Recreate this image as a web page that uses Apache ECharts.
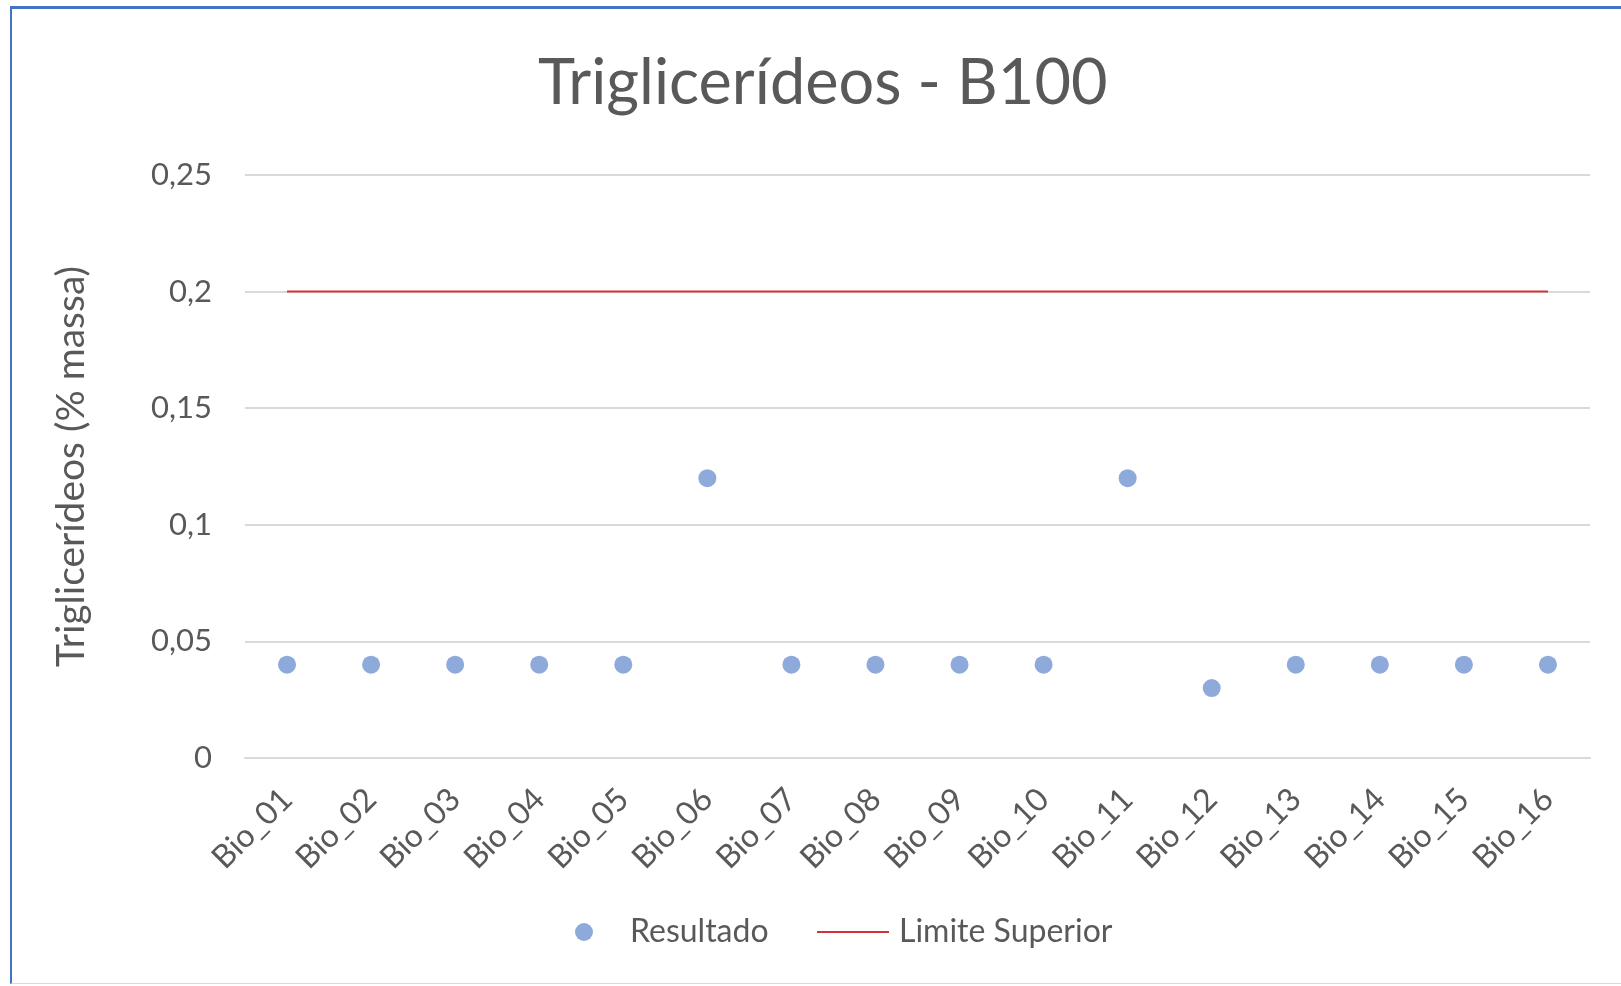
<!doctype html>
<html lang="pt">

<head>
    <meta charset="UTF-8">
    <title>Triglicerídeos - B100</title>
    <style>
        html, body { margin: 0; padding: 0; background: #fff; }
        #frame {
            position: absolute; left: 10px; top: 6px; width: 1611px; height: 978px;
            border-left: 2px solid #4472c4; border-top: 3px solid #4472c4;
            border-bottom: 1px solid #d9d9d9; box-sizing: border-box;
        }
    </style>
</head>

<body>
    <div id="frame"></div>
    <!-- área do gráfico -->
    <div id="main" style="position:absolute;left:0;top:0;width: 1621px;height:986px;"></div>
    <script src="https://cdn.jsdelivr.net/npm/echarts@6/dist/echarts.min.js"></script>
    <script>
        var categorias = ['Bio_01', 'Bio_02', 'Bio_03', 'Bio_04', 'Bio_05', 'Bio_06', 'Bio_07', 'Bio_08',
            'Bio_09', 'Bio_10', 'Bio_11', 'Bio_12', 'Bio_13', 'Bio_14', 'Bio_15', 'Bio_16'];
        var resultado = [0.04, 0.04, 0.04, 0.04, 0.04, 0.12, 0.04, 0.04, 0.04, 0.04, 0.12, 0.03, 0.04, 0.04, 0.04, 0.04];
        var limiteSuperior = [0.2, 0.2, 0.2, 0.2, 0.2, 0.2, 0.2, 0.2, 0.2, 0.2, 0.2, 0.2, 0.2, 0.2, 0.2, 0.2];
        var yTicks = [0, 0.05, 0.1, 0.15, 0.2, 0.25];

        var fonte = 'Lato, "Open Sans", sans-serif';
        var cinza = '#595959';
        var azul = '#8eaadb';
        var vermelho = '#d0343a';

        var myChart = echarts.init(document.getElementById('main'), null, { renderer: 'canvas' });

        option = {
            backgroundColor: 'transparent',
            title: {
                text: 'Triglicerídeos - B100',
                left: 533,
                top: 47,
                textStyle: { fontFamily: fonte, fontSize: 63, fontWeight: 'normal', color: cinza }
            },
            legend: [{
                data: ['Resultado'],
                left: 575,
                top: 916,
                padding: 0,
                icon: 'circle',
                itemWidth: 18,
                itemHeight: 18,
                itemStyle: { color: azul, opacity: 1 },
                textStyle: { fontFamily: fonte, fontSize: 32, color: cinza, padding: [0, 0, 0, 32] }
            }, {
                data: ['Limite Superior'],
                left: 817,
                top: 916,
                padding: 0,
                icon: 'rect',
                itemWidth: 72,
                itemHeight: 2,
                itemStyle: { color: vermelho },
                textStyle: { fontFamily: fonte, fontSize: 32, color: cinza, padding: [0, 0, 0, 5] }
            }],
            grid: { left: 245, right: 31, top: 175, bottom: 228 },
            xAxis: {
                type: 'category',
                data: categorias,
                axisTick: { show: false },
                axisLine: { lineStyle: { color: '#d9d9d9', width: 2 } },
                axisLabel: { rotate: 45, margin: 36, fontFamily: fonte, fontSize: 32, color: cinza }
            },
            yAxis: {
                type: 'value',
                min: 0,
                max: yTicks[yTicks.length - 1],
                interval: 0.05,
                name: 'Triglicerídeos (% massa)',
                nameLocation: 'middle',
                nameRotate: 90,
                nameGap: 154,
                nameTextStyle: { fontFamily: fonte, fontSize: 39, color: cinza },
                axisLine: { show: false },
                axisTick: { show: false },
                splitLine: { lineStyle: { color: '#d9d9d9', width: 2 } },
                axisLabel: {
                    margin: 33,
                    fontFamily: fonte,
                    fontSize: 31,
                    color: cinza,
                    formatter: function (v) {
                        return String(parseFloat(v.toFixed(2))).replace('.', ',');
                    }
                }
            },
            series: [{
                name: 'Resultado',
                type: 'scatter',
                data: resultado,
                symbolSize: 18,
                itemStyle: { color: azul, opacity: 1 },
                z: 3
            }, {
                name: 'Limite Superior',
                type: 'line',
                data: limiteSuperior,
                symbol: 'none',
                lineStyle: { color: vermelho, width: 2 },
                itemStyle: { color: vermelho },
                z: 2
            }]
        };

        myChart.setOption(option);
    </script>
</body>

</html>
